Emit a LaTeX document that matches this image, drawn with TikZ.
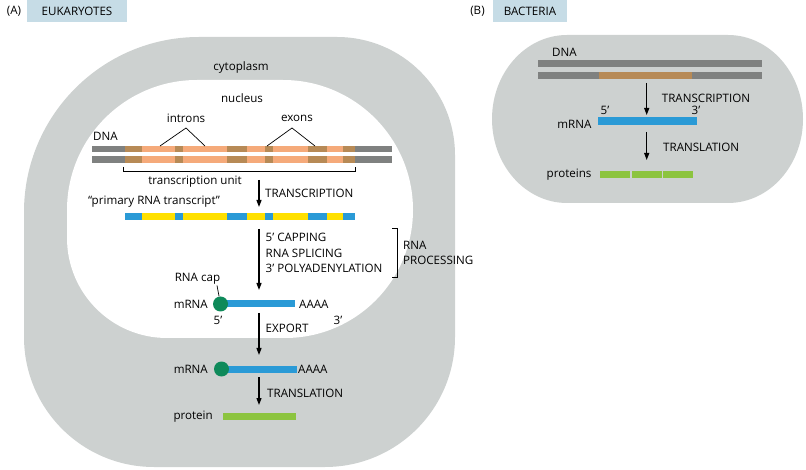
\documentclass[tikz,border=0pt]{standalone}
\usepackage{fontspec}
\setmainfont{Open Sans}
\usetikzlibrary{arrows.meta}
\definecolor{cyto}{HTML}{CDD1D0}
\definecolor{tagbox}{HTML}{C6DCE6}
\definecolor{dnagrey}{HTML}{7F8180}
\definecolor{peach}{HTML}{F5AA7A}
\definecolor{exonbrown}{HTML}{B78A56}
\definecolor{rnablue}{HTML}{2A9AD6}
\definecolor{intronyel}{HTML}{FFE000}
\definecolor{capgreen}{HTML}{0E8A5A}
\definecolor{protgreen}{HTML}{8CC43F}
\begin{document}
\begin{tikzpicture}[x=1pt,y=-1pt,
  font=\fontsize{11.6}{13}\selectfont,
  lbl/.style={inner sep=0pt},
  flow/.style={line width=1.2pt,-{Triangle[length=7pt,width=5pt]}},
  pointer/.style={line width=0.7pt},
  tag/.style={fill=tagbox,inner sep=0pt,minimum height=22pt}]
\useasboundingbox (0,0) rectangle (806,470);

% ---------- headings ----------
\node[lbl] (la) at (14,11) {(A)};
\node[tag,minimum width=100pt] (eu) at (77,11) {EUKARYOTES};
\node[lbl] (lb) at (477.5,11) {(B)};
\node[tag,minimum width=74pt] (ba) at (530,11) {BACTERIA};

% ---------- eukaryotic cell ----------
\fill[cyto] (24,212) .. controls (24,115.4) and (102.4,37) .. (199,37)
  -- (337,37) .. controls (402.1,37) and (455,89.9) .. (455,155)
  -- (455,337) .. controls (455,408.8) and (396.8,467) .. (325,467)
  -- (154,467) .. controls (82.2,467) and (24,408.8) .. (24,337) -- cycle;
\fill[white] (197,80) -- (283,80) .. controls (354.8,80) and (413,138.2) .. (413,210)
  .. controls (413,280.7) and (355.7,338) .. (285,338)
  -- (167,338) .. controls (111.8,338) and (67,293.2) .. (67,238)
  -- (67,210) .. controls (67,138.2) and (125.2,80) .. (197,80) -- cycle;

\node[lbl] (cyt) at (241,67) {cytoplasm};
\node[lbl] (nuc) at (242,98) {nucleus};

% DNA
\node[lbl,anchor=west] (dna) at (93,136) {DNA};
\fill[dnagrey] (92,145.7) rectangle (392,152.3);
\fill[dnagrey] (92,156) rectangle (392,162.7);
\fill[peach] (125,145.7) rectangle (355,152.3);
\fill[peach] (125,156) rectangle (355,162.7);
\foreach \a/\b in {125/141.7,175/183.3,226.7/246.7,265/273.3,308.3/326.7,343.3/355}{
  \fill[exonbrown] (\a,145.7) rectangle (\b,152.3);
  \fill[exonbrown] (\a,156) rectangle (\b,162.7);
}
\node[lbl] (intr) at (186,118) {introns};
\node[lbl] (exo) at (297,118) {exons};
\coordinate (ia) at (186,128);
\coordinate (ib) at (160,146);
\coordinate (ic) at (205,146);
\coordinate (ea) at (292,128);
\coordinate (eb) at (267,146);
\coordinate (ec) at (315,146);
\draw[pointer] (ib) -- (ia) -- (ic);
\draw[pointer] (eb) -- (ea) -- (ec);

% transcription unit bracket
\coordinate (tu1) at (123.3,167);
\coordinate (tu2) at (355,167);
\draw[pointer] (tu1) -- ++(0,4.7) -| (tu2);
\node[lbl] (tun) at (195,181.5) {transcription unit};

% transcription arrow
\coordinate (t1) at (259,180);
\coordinate (t2) at (259,207);
\draw[flow] (t1) -- (t2);
\node[lbl,anchor=west] (tr) at (265,193) {TRANSCRIPTION};
\node[lbl] (prim) at (154,202) {“primary RNA transcript”};

% primary transcript
\fill[intronyel] (125,213.5) rectangle (355,220.5);
\foreach \a/\b in {125/141.7,175/183.3,226.7/246.7,265/273.3,308.3/326.7,343.3/355}{
  \fill[rnablue] (\a,213.5) rectangle (\b,220.5);
}

% processing arrow
\coordinate (p1) at (259,229);
\coordinate (p2) at (259,290);
\draw[flow] (p1) -- (p2);
\node[lbl,anchor=west] (cap5) at (265.5,237) {5’ CAPPING};
\node[lbl,anchor=west] (spl) at (265.5,253) {RNA SPLICING};
\node[lbl,anchor=west] (poly) at (265.5,268.5) {3’ POLYADENYLATION};
\coordinate (br1) at (392,228.5);
\coordinate (br2) at (392,277.5);
\draw[pointer] (br1) -- ++(5,0) |- (br2);
\node[lbl,anchor=west] (rnap) at (403,245) {RNA};
\node[lbl,anchor=west] (proc) at (403,260) {PROCESSING};

% nuclear mRNA
\node[lbl] (capl) at (197.5,279) {RNA cap};
\fill[rnablue] (222,300.5) rectangle (295,307.5);
\node[circle,fill=capgreen,minimum size=15pt,inner sep=0pt] (cap1) at (220.5,304) {};
\coordinate (cp) at (217,285.5);
\draw[pointer] (cp) -- (cap1);
\node[lbl,anchor=east] (m1) at (208,304) {mRNA};
\node[lbl,anchor=west] (a1) at (299,304) {AAAA};
\node[lbl] (f1) at (218,320) {5’};
\node[lbl] (f3) at (338,320) {3’};

% export
\coordinate (x1) at (259,313);
\coordinate (x2) at (259,355);
\draw[flow] (x1) -- (x2);
\node[lbl,anchor=west] (exp) at (265.5,328) {EXPORT};

% cytoplasmic mRNA
\fill[rnablue] (223,365.5) rectangle (296.7,372.5);
\node[circle,fill=capgreen,minimum size=15pt,inner sep=0pt] (cap2) at (221.5,369) {};
\node[lbl,anchor=east] (m2) at (208,369) {mRNA};
\node[lbl,anchor=west] (a2) at (298,369) {AAAA};

% translation
\coordinate (l1) at (259,377);
\coordinate (l2) at (259,405);
\draw[flow] (l1) -- (l2);
\node[lbl,anchor=west] (tl) at (267,393) {TRANSLATION};
\fill[protgreen] (223,412.5) rectangle (296,419.5);
\node[lbl,anchor=east] (prot) at (213,416.5) {protein};

% ---------- bacterial cell ----------
\fill[cyto] (567,35) -- (728,35) .. controls (769.4,35) and (803,72.6) .. (803,119)
  .. controls (803,165.4) and (769.4,203) .. (728,203) -- (567,203)
  .. controls (525.6,203) and (492,165.4) .. (492,119)
  .. controls (492,72.6) and (525.6,35) .. (567,35) -- cycle;
\node[lbl,anchor=west] (bdna) at (552,52) {DNA};
\fill[dnagrey] (537.7,60) rectangle (761.7,67);
\fill[dnagrey] (537.7,72.5) rectangle (761.7,79.5);
\fill[exonbrown] (599.3,72.5) rectangle (691.7,79.5);
\coordinate (bt1) at (646.7,83);
\coordinate (bt2) at (646.7,115);
\draw[flow] (bt1) -- (bt2);
\node[lbl,anchor=west] (btr) at (661.7,98) {TRANSCRIPTION};
\node[lbl] (b5) at (605,110) {5’};
\node[lbl] (b3) at (696,110) {3’};
\fill[rnablue] (598.3,117.5) rectangle (697.3,125.5);
\node[lbl,anchor=east] (bm) at (591.7,124) {mRNA};
\coordinate (bl1) at (646.7,132);
\coordinate (bl2) at (646.7,160);
\draw[flow] (bl1) -- (bl2);
\node[lbl,anchor=west] (btl) at (663,147) {TRANSLATION};
\foreach \a/\b in {600/630,631.7/661.7,663.3/693.3}{
  \fill[protgreen] (\a,171.5) rectangle (\b,178.5);
}
\node[lbl,anchor=east] (bp) at (591.7,175) {proteins};
\end{tikzpicture}
\end{document}
